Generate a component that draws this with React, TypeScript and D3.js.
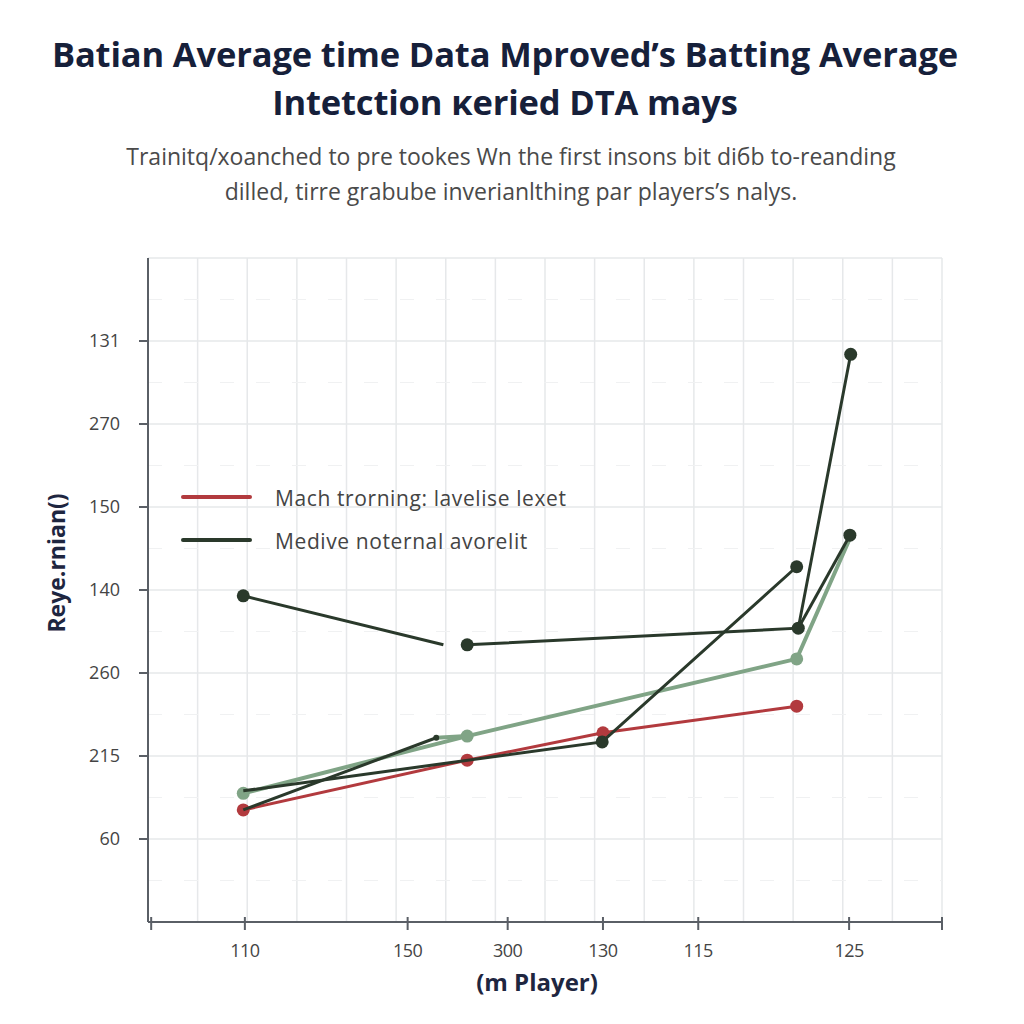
import React from "react";
import * as d3 from "d3";

const titleLines = [
  "Batian Average time Data Mproved\u2019s Batting Average",
  "Intetction \u0138eried DTA mays",
];
const subtitleLines = [
  "Trainitq/xoanched to pre tookes Wn the first insons bit di\u0431b to-reanding",
  "dilled, tirre grabube inverianlthing par players\u2019s nalys.",
];
const yTickLabels = ["60", "215", "260", "140", "150", "270", "131"];
const yTickValues = [1, 2, 3, 4, 5, 6, 7];
const xTickLabels = ["110", "150", "300", "130", "115", "125"];
const xTickValues = [12.2, 32.7, 45.3, 57.3, 69.3, 88.3];
const xAxisTitle = "(m Player)";
const yAxisTitle = "Reye.rnian()";
const legendLabels = ["Mach trorning: lavelise lexet", "Medive noternal avorelit"];

// series in data units: [x, y]
const redSeries: [number, number][] = [[12, 1.35], [40.2, 1.95], [57.3, 2.28], [81.7, 2.6]];
const lightSeries: [number, number][] = [[12, 1.55], [40.2, 2.24], [81.7, 3.17], [88.3, 4.6]];
const lightLink: [number, number][] = [[36.3, 2.22], [40.2, 2.24]];
const darkA: [number, number][] = [[12, 3.93], [37.2, 3.34]];
const darkB: [number, number][] = [[40.2, 3.34], [81.9, 3.54], [88.5, 6.84]];
const darkC: [number, number][] = [[81.9, 3.54], [88.4, 4.66]];
const darkD: [number, number][] = [[12, 1.35], [36.3, 2.22]];
const darkE: [number, number][] = [[12, 1.58], [57.2, 2.17], [81.7, 4.28]];

const RED = "#b23a3e";
const LIGHT = "#80a486";
const DARK = "#2a392b";

export default function App() {
  const W = 1024, H = 1024;
  const x = d3.scaleLinear().domain([0, 100]).range([148, 942]);
  const y = d3.scaleLinear().domain([0, 8]).range([922, 258]);
  const line = d3.line<[number, number]>().x((d) => x(d[0])).y((d) => y(d[1]));
  const vGrid = d3.range(0, 17).map((i) => i * 6.25);
  const hGrid = d3.range(0, 9);
  const hMinor = d3.range(0, 8).map((i) => i + 0.5);

  const dots = (data: [number, number][], color: string, r = 6.5, skip: number[] = []) =>
    data.map((d, i) =>
      skip.includes(i) ? null : <circle key={i} cx={x(d[0])} cy={y(d[1])} r={r} fill={color} />
    );

  return (
    <svg width={W} height={H} style={{ display: "block", position: "absolute", left: 0, top: 0 }} fontFamily="'Open Sans', 'Noto Sans', sans-serif">
      <rect width={W} height={H} fill="#ffffff" />
      {titleLines.map((t, i) => (
        <text key={i} x={505} y={67 + i * 48} textAnchor="middle" fontSize={34.5} fontWeight={700} fill="#16203a" letterSpacing={-0.15}>{t}</text>
      ))}
      {subtitleLines.map((t, i) => (
        <text key={i} x={511} y={165 + i * 35} textAnchor="middle" fontSize={23} fill="#4a4a4a" letterSpacing={0}>{t}</text>
      ))}
      {/* grid */}
      {vGrid.map((v, i) => (
        <line key={"v" + i} x1={x(v)} x2={x(v)} y1={y(8)} y2={y(0)} stroke="#e6e8ea" strokeWidth={1.5} />
      ))}
      {hGrid.map((v, i) => (
        <line key={"h" + i} x1={x(0)} x2={x(100)} y1={y(v)} y2={y(v)} stroke="#e6e8ea" strokeWidth={1.5} />
      ))}
      {hMinor.map((v, i) => (
        <line key={"m" + i} x1={x(0)} x2={x(100)} y1={y(v)} y2={y(v)} stroke="#f0f1f2" strokeWidth={1} strokeDasharray="14 22" />
      ))}
      {/* axes */}
      <line x1={x(0)} x2={x(0)} y1={y(8)} y2={y(0)} stroke="#5a5f66" strokeWidth={2} />
      <line x1={x(0)} x2={x(100)} y1={y(0)} y2={y(0)} stroke="#5a5f66" strokeWidth={2} />
      {yTickValues.map((v, i) => (
        <g key={"yt" + i}>
          <line x1={x(0) - 9} x2={x(0)} y1={y(v)} y2={y(v)} stroke="#5a5f66" strokeWidth={2} />
          <text x={120} y={y(v) + 6} textAnchor="end" fontSize={18} fill="#444">{yTickLabels[i]}</text>
        </g>
      ))}
      {[0.4, ...xTickValues, 100].map((v, i) => (
        <line key={"xt" + i} x1={x(v)} x2={x(v)} y1={y(0) - 5} y2={y(0) + 8} stroke="#5a5f66" strokeWidth={2} />
      ))}
      {xTickValues.map((v, i) => (
        <text key={"xl" + i} x={x(v)} y={957} textAnchor="middle" fontSize={18} fill="#444" letterSpacing={-0.5}>{xTickLabels[i]}</text>
      ))}
      <text x={537} y={991} textAnchor="middle" fontSize={24} fontWeight={700} fill="#1e2640">{xAxisTitle}</text>
      <text transform={`translate(65,${563}) rotate(-90)`} textAnchor="middle" fontSize={23} fontWeight={700} fill="#1e2640">{yAxisTitle}</text>
      {/* legend */}
      <line x1={183} x2={250} y1={497} y2={497} stroke={RED} strokeWidth={4} strokeLinecap="round" />
      <line x1={183} x2={250} y1={540} y2={540} stroke={DARK} strokeWidth={4} strokeLinecap="round" />
      <text x={275} y={506} fontSize={21} fill="#444" letterSpacing={0.6}>{legendLabels[0]}</text>
      <text x={275} y={549} fontSize={21} fill="#444" letterSpacing={0.6}>{legendLabels[1]}</text>
      {/* series */}
      <path d={line(lightSeries) || ""} fill="none" stroke={LIGHT} strokeWidth={4} />
      <path d={line(lightLink) || ""} fill="none" stroke={LIGHT} strokeWidth={4} />
      {dots(lightSeries, LIGHT, 6.5, [3])}
      <path d={line(redSeries) || ""} fill="none" stroke={RED} strokeWidth={3} />
      {dots(redSeries, RED)}
      <path d={line(darkA) || ""} fill="none" stroke={DARK} strokeWidth={3} />
      <path d={line(darkB) || ""} fill="none" stroke={DARK} strokeWidth={3} />
      <path d={line(darkC) || ""} fill="none" stroke={DARK} strokeWidth={3} />
      <path d={line(darkD) || ""} fill="none" stroke={DARK} strokeWidth={3} />
      <path d={line(darkE) || ""} fill="none" stroke={DARK} strokeWidth={3} />
      {dots([darkA[0]], DARK)}
      {dots(darkB, DARK)}
      {dots([darkC[1]], DARK)}
      {dots([darkD[1]], DARK, 3)}
      {dots([darkE[1], darkE[2]], DARK)}
    </svg>
  );
}
